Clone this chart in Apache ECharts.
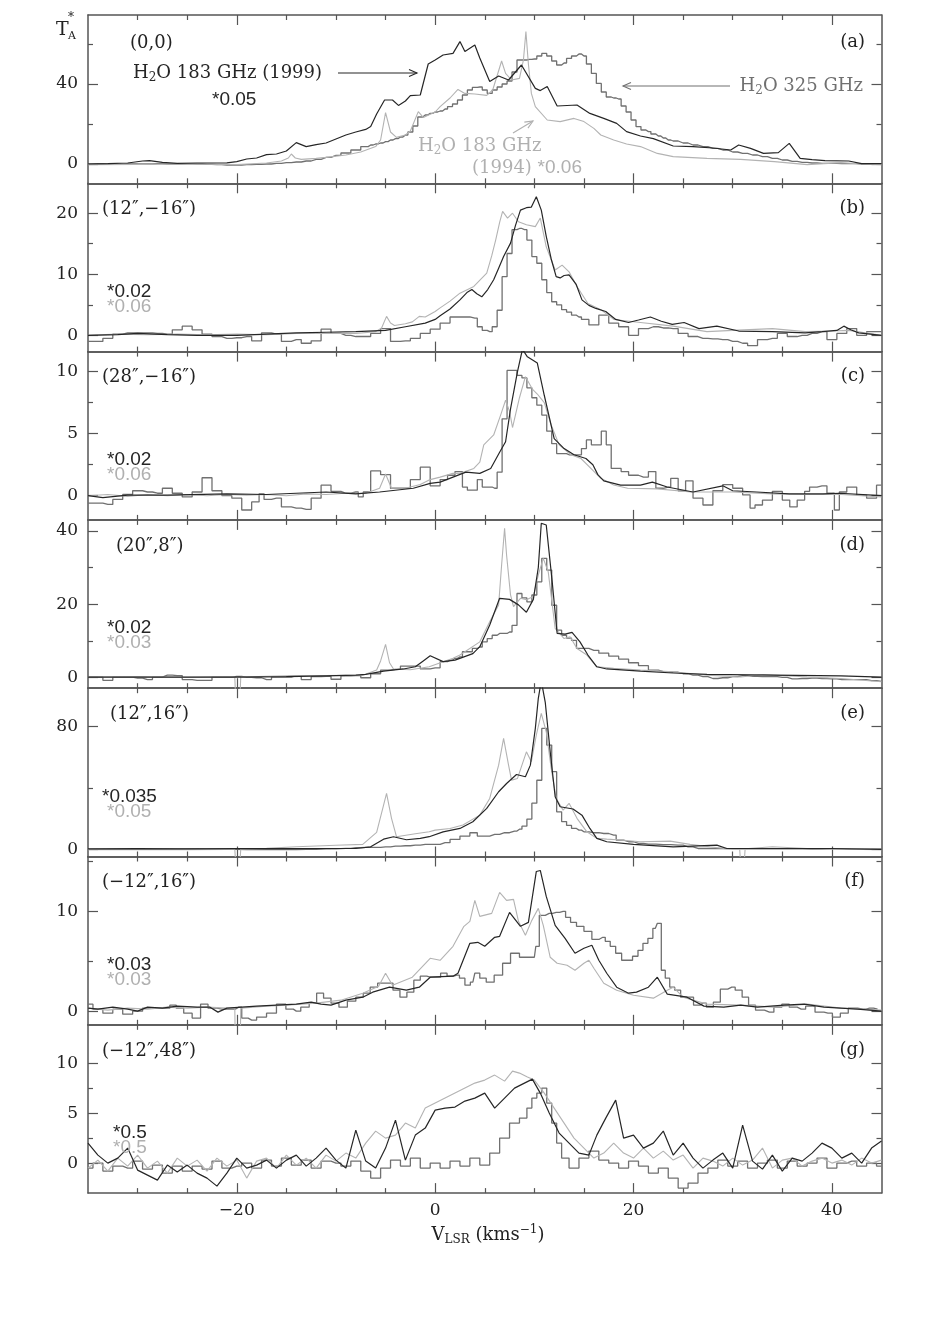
<!DOCTYPE html>
<html><head><meta charset="utf-8">
<script src="https://cdn.jsdelivr.net/npm/echarts@6/dist/echarts.min.js"></script>
<style>html,body{margin:0;padding:0;background:#fff}#c{width:926px;height:1322px}</style>
</head><body><div id="c"></div>
<script>
// ---------------- DATA ----------------
const xMajorTicks=[-20,0,20,40];
const xMinorTicks=[-30,-25,-15,-10,-5,5,10,15,25,30,35];

// panel (a) (0,0)
const a_w99=[[-35,0],[-33,0.2],[-31,0.5],[-29.5,1.5],[-28.8,1.7],[-27.5,0.8],[-26,0.3],[-24,0.5],[-22,0.5],[-21,0.6],[-20,1.2],[-19,2.5],[-18,3],[-17,4.7],[-16,5],[-15,6.5],[-14,10.7],[-13,8.7],[-12,9.7],[-11,10.5],[-10,12.5],[-9,14.5],[-8,16],[-7,17.3],[-6.5,18.7],[-5.9,25],[-5.1,32],[-4.3,32],[-3.7,29.3],[-3,31.5],[-2.5,34.2],[-1.5,34.5],[-0.7,50],[0,52],[0.8,54.5],[1.8,55.3],[2.5,61.2],[3,56.2],[4,59.5],[4.5,53],[5.5,41.2],[6.4,44],[7.4,42],[8.7,49.5],[10.1,37.8],[10.6,36.7],[11.3,38.7],[12.3,29],[14.3,29.5],[15.6,25.3],[17,22.8],[18.3,20.3],[19.3,16.2],[20.7,14],[22,12.7],[24,9],[26,8.7],[28,8],[29.8,7],[30.6,9.5],[31.8,7.8],[33.1,5.3],[34.6,5.7],[35.7,10.3],[36.8,2.8],[38,2.2],[39.3,1.7],[41.7,1.5],[43,0.2],[45,0.2]];
const a_w94=[[-35,-0.3],[-30,-0.2],[-25,0],[-20,-0.3],[-17,0.5],[-15.5,1.5],[-14.8,3],[-14.5,5],[-14.1,3],[-13.5,2.3],[-12,2.8],[-11,3.3],[-9,4.5],[-7.5,6],[-6,8.7],[-5.5,12],[-5.0,25.7],[-4.5,16],[-3.9,13.3],[-3,14.5],[-2.5,16.5],[-1.7,26.2],[-1.2,23.3],[0,26],[0.5,28.7],[1.5,33],[2.3,37.3],[3.0,35.3],[4,35],[5.2,34.3],[5.8,37],[6.3,45],[6.7,51.5],[7.1,45.3],[7.7,42],[8.5,42.8],[8.9,52],[9.15,66.2],[9.4,50],[9.7,35.3],[10.1,28.7],[11.3,22],[12.6,21.2],[14,22.8],[15,21.2],[16,17.8],[16.7,14.5],[18,12],[19.3,10],[20.7,8.7],[22.4,5.3],[24,3.7],[27.4,2.8],[30.8,2.3],[34.2,1.2],[37.5,-0.3],[40.9,0.7],[43,0],[45,-0.3]];
const a_w325=[[-35,0],[-34,0.2],[-33,0],[-32,-0.2],[-31,0],[-30,0.1],[-29,0],[-28,0.2],[-27,0],[-26,0],[-25,0.1],[-24,0],[-23,-0.2],[-22,-0.3],[-21,-0.5],[-20,-0.5],[-19,-0.3],[-18,-0.2],[-17,0],[-16,0.3],[-15,0.7],[-14,1],[-13,1.5],[-12,2.3],[-11,3.3],[-10,4.3],[-9,5.5],[-8,7],[-7,8.7],[-6.5,9.5],[-6,10],[-5.5,10.5],[-5,11.2],[-4.5,12],[-4,12.7],[-3.5,13.5],[-3,14.5],[-2.5,16],[-2,19],[-1.5,23.5],[-1,24.5],[-0.5,25.3],[0,26],[0.5,26.5],[1,27.5],[1.5,28.7],[2,30],[2.5,32],[3,34.5],[3.5,37],[4,38.3],[4.5,38.5],[5,37],[5.5,35.3],[6,37],[6.5,38.5],[7,40],[7.5,41.5],[8,46],[8.5,52],[9,52],[9.5,52.3],[10,52.5],[10.5,54],[11,55.3],[11.5,54],[12,51.5],[12.5,49.5],[13,50.5],[13.5,52.8],[14,54],[14.5,55],[15,54],[15.5,50],[16,45.3],[16.5,40.3],[17,36],[17.5,33.5],[18,33],[18.5,32.5],[19,29],[19.5,26],[20,22],[20.5,18.7],[21,17],[21.5,16.2],[22,15],[22.5,14],[23,13],[23.5,12],[24,11.5],[25,10.5],[26,9.5],[27,8.7],[28,7.8],[29,7],[30,6],[31,5.3],[32,4.5],[33,3.7],[34,2.8],[35,2],[36,1.3],[37,0.8],[38,0.5],[39,0.3],[40,0.3],[41,0.2],[42,0.2],[43,0],[44,0],[45,0]];
const a_yMajor=[0,40], a_yMinor=[20,60];

// panel (b) (12",-16")
const b_w99=[[-35,0],[-32,0.1],[-30,0.3],[-27,0.1],[-24,0],[-20,0],[-17,0.2],[-14,0.4],[-11,0.5],[-8,0.6],[-5,0.8],[-3,1.4],[-1,2],[0,2.6],[0.5,3.2],[1.5,4.3],[2.5,5.8],[3.2,7],[3.7,7.5],[4.2,6.8],[4.7,6.3],[5.3,7.5],[5.9,9.1],[6.4,11],[6.9,12.9],[7.6,15.1],[8.1,18],[8.6,20.5],[9.2,20.9],[9.7,21],[10.2,22.7],[10.7,20.5],[11.2,16.2],[11.7,12.5],[12.2,9.6],[12.6,9.4],[13,9.8],[13.5,9.9],[14.2,8.4],[14.8,5.8],[15.5,4.9],[16.2,4.4],[17.2,3.9],[18.2,2.6],[19.5,2.1],[20.5,2.5],[21.7,3.0],[22.8,2.3],[23.9,1.8],[25.1,2.1],[26.6,1.1],[28.4,1.5],[30.6,0.7],[34,0.6],[37.3,0.4],[39,0.6],[40.5,0.8],[41.2,1.5],[41.9,0.9],[42.7,0.4],[45,0]];
const b_w94=[[-35,0],[-32,0.2],[-29,0.1],[-26,0.2],[-23,0.1],[-20,0.2],[-17,0.1],[-14,0.3],[-11,0.3],[-8,0.3],[-6,0.6],[-5.4,1.2],[-4.9,3.1],[-4.5,2.0],[-4.1,1.6],[-3,1.9],[-2.3,2.2],[-1.6,3.1],[-1,3.0],[0,3.9],[0.5,4.5],[1.5,5.6],[2.5,6.9],[3.9,8.0],[5.2,10.2],[5.7,13],[6.1,15.6],[6.5,18.5],[6.8,20.3],[7.3,19.2],[7.8,20],[8.4,18.6],[9.2,18.1],[10.1,17.8],[10.6,19.2],[11.2,14.5],[12.1,10.7],[12.8,11.5],[13.5,10.4],[14.3,8.0],[15.4,5.2],[16.7,4.2],[18,2.6],[20.7,2.1],[24,1.5],[27.4,0.6],[30,0.8],[34,1.1],[37.3,0.6],[40,0.7],[41.7,0.8],[45,0]];
const b_w325=[[-35,-1.0],[-34,-1.0],[-33,-0.5],[-32,0.2],[-31,0.4],[-30,0.4],[-29,0.4],[-28,0.3],[-27,0.2],[-26,0.9],[-25,1.5],[-24,0.9],[-23,0.2],[-22,-0.2],[-21,-0.5],[-20,-0.4],[-19,-0.2],[-18,-0.9],[-17,0.4],[-16,0.2],[-15,-1.0],[-14,-0.7],[-13,-1.3],[-12,-0.9],[-11,1.0],[-10,0.3],[-9,0],[-8,-0.2],[-7,-0.2],[-6,0.3],[-5,1.1],[-4,-1.0],[-3,-0.9],[-2,-0.5],[-1,0.3],[0,1.0],[1,2.0],[2,3.0],[3,3.0],[4,2.8],[4.5,1.4],[5,0.8],[5.5,0.6],[6,1.4],[6.5,4.1],[7,9.6],[7.5,13.4],[8,17.3],[8.5,17.5],[9,17.3],[9.5,15.6],[10,12.9],[10.5,11.8],[11,9.1],[11.5,7],[12,5.5],[12.5,5.0],[13,4.2],[13.5,3.8],[14,3.3],[14.5,3.0],[15,2.6],[16,1.7],[17,3.3],[18,2.0],[19,1.4],[20,0],[21,1.1],[22,1.4],[23,1.2],[24,1.1],[25,0.3],[26,-0.2],[27,-0.5],[28,-0.6],[29,-0.7],[30,-1.0],[31,-1.3],[32,-1.7],[33,-0.7],[34,-0.5],[35,0.3],[36,-0.2],[37,0],[38,0.3],[39,0.6],[40,-0.7],[41,0.3],[42,1.1],[43,0],[44,0.6],[45,0.6]];
const b_yMajor=[0,10,20], b_yMinor=[5,15];

// panel (c) (28",-16")
const c_w99=[[-35,0],[-33.5,-0.16],[-31,0.05],[-27,0.05],[-21,0.15],[-17,0.1],[-11,0.3],[-8,0.15],[-5.6,0.3],[-2.2,0.6],[-0.5,1.0],[0.5,1.1],[1.8,1.5],[3.1,1.9],[4.5,1.8],[5.6,2.2],[6.5,3.5],[7.1,4.35],[7.6,7.0],[8.3,10.0],[8.8,11.8],[9.3,11.2],[10.3,10.7],[11,8.1],[12,4.6],[13,3.8],[14,3.3],[15.2,3.0],[15.9,2.5],[16.4,1.7],[17,1.2],[18.7,0.86],[20.7,0.86],[21.9,1.1],[23.4,0.7],[26,0.3],[29,0.8],[30,0.4],[32.4,0.3],[35.7,0.15],[39.1,0.15],[40.8,0.2],[45,0]];
const c_w94=[[-35,0],[-33,0.1],[-31,-0.05],[-29,0.1],[-27,0],[-25,0.1],[-23,0],[-21,0.1],[-19,0.05],[-17,0.1],[-15,0],[-13,0.15],[-11,0.1],[-9,0.2],[-7,0.2],[-5.6,0.6],[-5.0,1.75],[-4.4,0.6],[-3,0.6],[-1.5,0.9],[-0.5,1.3],[0.5,1.5],[1.8,1.8],[2.5,1.8],[3.9,2.2],[4.5,2.7],[4.9,4.1],[5.9,4.9],[6.6,6.5],[7.1,7.7],[7.5,6.8],[7.8,5.5],[8.5,7.9],[9.1,9.6],[9.8,8.6],[10.3,8.2],[11,7.5],[11.7,5.7],[12.5,4.1],[13.7,3.3],[14.7,3.0],[15.7,2.2],[16.7,1.4],[18,0.86],[19.4,0.6],[22.4,0.55],[25.8,0.3],[30,0.3],[34,0.15],[37.5,0.1],[41,0.1],[45,-0.1]];
const c_w325=[[-35,-0.6],[-34,-0.6],[-33,-0.7],[-32,-0.3],[-31,0.1],[-30,0.4],[-29,0.3],[-28,0.2],[-27,0.6],[-26,0.2],[-25,-0.1],[-24,0.3],[-23,1.45],[-22,0.4],[-21,0],[-20,-0.2],[-19,-1.15],[-18,-0.5],[-17.5,0.15],[-17,-0.3],[-16,-0.2],[-15,-0.9],[-14,-1.0],[-13,-1.1],[-12,-0.2],[-11,0.85],[-10,0.35],[-9,0.2],[-8,0.3],[-7.5,-0.1],[-7,0.3],[-6,2.0],[-5,1.7],[-4,0.6],[-3,0.6],[-2,1.3],[-1,2.3],[0,0.8],[1,1.3],[1.5,1.65],[2.5,1.95],[3,0.7],[3.5,0.45],[4,0.45],[4.5,1.3],[5,0.7],[5.5,0.7],[6,0.6],[6.5,1.9],[7,6.2],[7.5,10.1],[8,10.1],[8.5,9.7],[9,9.5],[9.5,8.7],[10,7.9],[10.5,7.3],[11,6.5],[11.5,5.2],[12,4.2],[12.5,3.4],[13,3.4],[13.5,3.3],[14,3.3],[14.5,3.3],[15,3.8],[15.5,4.5],[16,4.1],[16.5,4.1],[17,5.2],[17.5,4.1],[18,2.2],[18.5,2.2],[19,1.95],[20,1.65],[21,1.5],[22,1.95],[22.5,0.6],[23.5,0.7],[24,1.4],[25,0.4],[25.5,1.2],[26.5,-0.2],[27.5,-0.75],[28.5,0.4],[29.5,0.9],[30.5,0.6],[31.5,0.06],[32,-1.0],[32.5,-0.75],[33.5,-0.35],[34.5,0.35],[35.5,-0.35],[36,-0.9],[37,-0.35],[37.5,0.35],[38,0.7],[39,0.8],[40,0.2],[40.5,-1.15],[41,0.3],[42,0.7],[43,0.05],[44,-0.2],[45,0.85]];
const c_yMajor=[0,5,10], c_yMinor=[2.5,7.5];

// panel (d) (20",8")
const d_w99=[[-35,0.1],[-30,0.1],[-25,0.1],[-20,0.1],[-15,0.2],[-11,0.4],[-8,0.6],[-7,0.8],[-5.2,1.7],[-3.2,2.3],[-2,2.9],[-1.2,4.5],[-0.5,5.9],[0.8,4.3],[2,4.7],[3.8,6.5],[4.5,8.4],[5.5,14.3],[6.5,21.6],[7.5,21.3],[8.4,19.8],[9.2,17.8],[9.9,21.3],[10.4,30],[10.7,42.1],[11.2,41.6],[11.8,26.1],[12.3,12.0],[13.1,11.8],[13.8,12.3],[14.6,9.7],[15.4,6.1],[16.3,2.9],[17.3,2.3],[20.7,1.7],[24,1.2],[27.4,0.8],[34.1,0.6],[40.9,0.4],[45,0.1]];
const d_w94=[[-35,0.1],[-30,0.2],[-25,0],[-21,0.2],[-20.2,0.1],[-20.05,-10],[-19.75,-10],[-19.6,0.1],[-17,0.3],[-14,0.5],[-11,0.5],[-9,0.6],[-7.3,0.6],[-5.9,2.0],[-5.5,4.5],[-5.0,9.0],[-4.6,4],[-4.2,2.3],[-2.5,2.1],[-0.6,2.9],[1.8,5.2],[2.5,6.1],[4.5,9.7],[5.5,15.2],[6.4,19.8],[6.7,30.7],[7.0,40.7],[7.2,33.4],[7.6,22.5],[7.9,19.3],[8.6,21.6],[9.2,21.2],[9.9,22.1],[10.4,28.0],[10.9,32.5],[11.4,28.8],[12.1,13.4],[13,10.6],[13.6,11.1],[14.3,7.9],[15.3,6.1],[16.3,2.9],[18,2.5],[20.7,2.0],[24,1.5],[27.4,0.6],[30.8,0.1],[33.1,0.8],[37.5,0.1],[40.9,-0.3],[45,-1.2]];
const d_w325=[[-35,0.1],[-34,0.1],[-33,-0.8],[-32,0.1],[-31,0.1],[-30,-0.2],[-29,-0.6],[-28,0.1],[-27,0.6],[-26,0.5],[-25,-0.6],[-24,-0.8],[-23,-0.8],[-22,0.1],[-21,0.1],[-20,0.3],[-19,0],[-18,-0.1],[-17,-0.6],[-16,0.1],[-15,0.1],[-14,0.5],[-13,-0.6],[-12,0.2],[-11,0.3],[-10,-0.5],[-9,0.4],[-8,0.5],[-7,-0.1],[-6,1.0],[-5,2.0],[-4,2.2],[-3,3.1],[-2,3.1],[-1,2.3],[0,2.6],[1,4.3],[1.5,4.7],[2,5.2],[2.5,5.6],[3,7.0],[3.5,7.0],[4,7.9],[4.5,8.3],[5,9.7],[5.5,10.6],[6,11.5],[6.5,12.0],[7,12.0],[7.5,12.4],[8,14.2],[8.5,22.9],[9,21.7],[9.5,20.6],[10,22.5],[10.5,26.1],[11,32.5],[11.5,29.3],[12,19.7],[12.5,12.9],[13,11.5],[13.5,10.7],[14,10.1],[14.5,7.9],[15,7.9],[16,7.4],[17,6.6],[18,5.8],[19,5.0],[20,4.0],[21,3.2],[22,2.0],[23,1.6],[24,1.4],[25,1.0],[26,0.6],[27,0.2],[28,-0.3],[29,-0.1],[30,0.2],[31,0.5],[32,0.3],[33,0.2],[34,0.2],[35,0],[36,-0.4],[37,-0.3],[38,-0.2],[39,-0.3],[40,-0.4],[41,-0.6],[42,-0.6],[43,-0.6],[44,-0.9],[45,-1.1]];
const d_yMajor=[0,20,40], d_yMinor=[10,30];

// panel (e) (12",16")
const e_w99=[[-35,0.2],[-30,0.3],[-25,0.2],[-20,0.3],[-15,0.3],[-10,0.4],[-8,0.4],[-6.5,1.5],[-5.2,6.5],[-4.2,8.1],[-2.9,6.1],[-1.5,7],[-0.6,8.1],[0.8,11.3],[2.5,13.5],[3.8,17.9],[5.2,26.6],[6.4,37.5],[7.2,42.9],[8.2,48.8],[9.1,47.3],[9.6,54.9],[10.1,78.9],[10.4,98.6],[10.7,110],[11.1,96],[11.6,63.6],[12.1,34.2],[12.6,27.7],[13.9,26.2],[14.8,22.2],[15.6,13.5],[16.3,7.0],[17.3,4.8],[20,3.1],[24,1.5],[28.4,2.6],[29.4,0.4],[34,0.4],[40,0.4],[45,-0.2]];
const e_w94=[[-35,-0.4],[-30,-0.3],[-25,-0.4],[-21,-0.2],[-20.2,-0.2],[-20.05,-15],[-19.75,-15],[-19.6,0],[-17,0.5],[-14,1.5],[-10,2.5],[-7.3,3.1],[-5.9,10.9],[-5.2,28.8],[-4.9,36.4],[-4.4,20.1],[-3.9,8.1],[-2,10],[-0.6,11.3],[0,12.4],[1.5,13.5],[2.8,15.7],[4.5,22.2],[5.5,33.1],[6.4,54.9],[6.9,72.4],[7.4,54.9],[7.7,45.1],[8.3,46.2],[9.2,63.6],[9.7,57.1],[10.2,74.6],[10.7,88.7],[11.2,76.7],[11.7,52.8],[12.2,33.1],[12.9,25.5],[13.5,29.9],[14.3,20.1],[15.3,11.3],[16.3,7.0],[17.3,6.5],[18.7,5.9],[20.7,4.8],[23.7,5.2],[25.7,3.1],[29.1,0.4],[30.7,0.2],[30.85,-15],[31.1,-15],[31.25,0.2],[34,1.5],[37.5,0.4],[41,0],[45,-0.4]];
const e_w325=[[-35,-0.2],[-33,-0.2],[-31,0],[-29,-0.2],[-27,0],[-25,0.2],[-23,0],[-21,-0.2],[-19,-0.3],[-17,-0.4],[-15,-0.4],[-13,-0.2],[-11,0.2],[-9,0.5],[-8,0.9],[-7,1.1],[-6,1.1],[-5,1.5],[-4,2.0],[-3,2.2],[-2,2.6],[-1,3.1],[0,3.1],[1,4.2],[2,6.3],[3,8.5],[4,10.7],[4.5,8.5],[5,8.5],[6,9.6],[7,10.7],[8,11.8],[8.5,13],[9,15],[9.5,19.6],[10,30],[10.5,45],[11,78.9],[11.5,68],[12,50.6],[12.5,24.4],[13,18],[13.5,15.5],[14,13.5],[14.5,12.4],[15,11.3],[16,10.7],[17,10.2],[18,9.2],[18.5,5.9],[19.5,4.8],[20.5,3.7],[21.5,3.3],[23,2.9],[24.5,2.6],[25.5,1.5],[26.5,0.4],[28,0.4],[30,0.2],[32,0.2],[34,0.1],[36,0.2],[38,0],[40,0.1],[42,-0.1],[44,-0.1],[45,-0.1]];
const e_yMajor=[0,80], e_yMinor=[40];

// panel (f) (-12",16")
const f_w99=[[-35,0.3],[-34,0.2],[-32.5,0.4],[-31,0.2],[-30,0],[-29,0.4],[-27.5,0.3],[-26,0.5],[-24,0.4],[-22.7,0.4],[-21.9,-0.1],[-21,0.3],[-18,0.5],[-16,0.6],[-14,0.7],[-12.5,0.9],[-11.5,0.7],[-10.5,0.6],[-9,1.1],[-7.3,1.4],[-6.3,1.9],[-4.6,2.4],[-2.9,2.1],[-1.6,2.4],[-0.5,3.4],[1.8,3.5],[2.3,3.8],[2.9,5.3],[3.5,6.8],[4.3,6.9],[5,6.5],[6,7.4],[6.5,7.5],[7.5,9.9],[8.6,8.5],[9.4,8.9],[10.2,14.0],[10.6,14.1],[11.2,11.5],[12.1,8.6],[13.1,7.3],[14.1,5.8],[15,6.3],[15.8,6.6],[16.5,5.1],[17.3,3.8],[18.3,2.4],[19.5,1.8],[20.3,1.9],[21.5,2.4],[22.4,3.4],[23.4,1.7],[25.4,1.4],[27.1,0.5],[29.1,0.4],[30.8,0.6],[32.5,0.4],[35.2,0.6],[37.2,0.7],[39.2,0.4],[42.6,0.2],[45,0]];
const f_w94=[[-35,0.3],[-33,0.1],[-31,0.3],[-29,0.2],[-27,0.4],[-25,0.3],[-23,0.4],[-21,0.3],[-20.2,0.3],[-20.05,-10],[-19.75,-10],[-19.6,0.3],[-17,0.5],[-15,0.6],[-12,0.8],[-9.5,1.1],[-7.3,1.8],[-5.7,2.5],[-5,3.8],[-4.3,2.6],[-2.3,3.4],[-0.5,5.3],[0.5,5.1],[1.8,6.5],[2.9,8.5],[3.5,9.0],[4.0,11.1],[4.5,9.5],[5.7,9.8],[6.5,11.9],[7.2,11.1],[7.9,11.2],[8.4,9.0],[9.1,7.6],[9.7,9.0],[10.4,10.3],[10.9,8.6],[11.6,5.4],[12.3,4.8],[13.3,4.6],[14.1,4.1],[15,4.8],[15.5,5.1],[16,4.3],[17,2.8],[18.3,2.1],[20,1.6],[22,1.3],[23.4,2.1],[24,2.4],[25,1.4],[27.4,0.7],[30.8,0.6],[34.1,0.4],[37.5,0.7],[40.9,0.3],[45,0.1]];
const f_w325=[[-35,0.7],[-34,0.2],[-33,-0.2],[-32,0.2],[-31,-0.3],[-30,0],[-29,0.3],[-28,0.3],[-27,0.3],[-26.5,0.6],[-25.7,0.3],[-25,-0.2],[-24,-0.7],[-23.3,0.7],[-22.5,0.3],[-21.5,0.2],[-20.5,0.2],[-19.8,0.4],[-19.2,-0.7],[-18.5,-0.9],[-17.5,-0.6],[-16.5,-0.2],[-15.5,0.7],[-14.6,0.2],[-14,0],[-13.1,0.4],[-12.3,0.8],[-11.6,1.8],[-10.9,1.3],[-10.1,0.8],[-9.3,0.4],[-8.4,1.0],[-7.6,1.4],[-6.9,1.8],[-6.2,2.4],[-5.4,2.8],[-4.6,2.8],[-3.9,2.1],[-3.2,1.4],[-2.5,1.9],[-1.8,3.1],[-1.2,3.5],[-0.5,3.4],[0.2,3.4],[0.9,3.8],[1.5,3.5],[2.2,3.6],[2.7,3.3],[3.3,2.6],[3.8,2.9],[4.2,3.8],[4.8,3.3],[5.5,2.9],[6.4,3.6],[7.2,4.8],[8,5.8],[9,5.4],[10,5.4],[10.3,6.5],[10.7,9.6],[11.5,9.8],[12.2,9.9],[12.9,10.0],[13.4,9.4],[13.9,8.9],[14.6,8.5],[15.4,8.0],[16.2,7.2],[16.9,7.4],[17.4,7.0],[17.9,6.5],[18.5,5.8],[19.1,5.1],[19.6,5.1],[20.2,5.5],[20.7,6.1],[21.2,6.8],[21.7,7.3],[22.2,8.3],[22.6,8.8],[23,4.1],[23.4,3.3],[23.9,2.4],[24.4,2.1],[25.1,1.4],[25.7,1.4],[26.4,0.6],[27,0.8],[27.7,0.4],[28.4,0.9],[29.1,2.2],[29.9,2.4],[30.6,2.1],[31.3,1.4],[31.9,0.6],[32.7,0.1],[33.7,-0.1],[34.6,0.4],[35.3,0.7],[36.1,0.4],[36.9,0.2],[37.8,0.5],[38.8,-0.1],[39.6,-0.2],[40.5,-0.6],[41.2,-0.2],[42.1,0.3],[43.1,0.2],[43.8,0.3],[44.6,0.2]];
const f_yMajor=[0,10], f_yMinor=[5,15];

// panel (g) (-12",48")
const g_w99=[[-35,2.0],[-34,0.8],[-33,0],[-32,0.5],[-31,1.5],[-30,-0.7],[-29,-1.2],[-28,-1.7],[-27,-0.2],[-26,-0.9],[-25,-0.2],[-24,-1.0],[-23,-1.5],[-22,-2.3],[-21,-1.0],[-20,0.5],[-19,-0.5],[-18,-0.2],[-17,0.3],[-16,-0.5],[-15,0.3],[-14,0.8],[-13,-0.3],[-12,0.5],[-11,1.5],[-10,0.3],[-9,-0.5],[-8,3.3],[-7,0.2],[-6,-0.5],[-5,1.5],[-4,4.3],[-3,0.3],[-2,2.8],[-1,3.5],[0,5.3],[1,5.5],[2,5.6],[3,6.2],[4,6.5],[5,7.0],[6,5.5],[7,6.5],[8,7.5],[9,8.0],[9.8,8.4],[10.6,7.0],[11.5,5.0],[12.5,3.0],[13.5,2.0],[14.5,1.0],[15.5,0.8],[16.3,2.8],[17.2,4.5],[18.2,6.3],[19,2.5],[20,2.8],[21,1.5],[22,2.0],[23,3.2],[24,0.8],[25,2.0],[26,0.5],[27,-0.5],[28,0.3],[29,1.0],[30,-0.5],[31,3.8],[32,0.2],[33,-0.6],[34,0.8],[35,-0.8],[36,0.5],[37,0.2],[38,1.0],[39,2.0],[40,1.5],[41,0.5],[42,1.0],[43,0],[44,1.5],[45,2.2]];
const g_w94=[[-35,-0.5],[-34,0.3],[-33,-0.8],[-32,0.5],[-31,-0.3],[-30,0.8],[-29,-0.5],[-28,0.2],[-27,-1.0],[-26,0.5],[-25,-0.3],[-24,0.3],[-23,-0.8],[-22,0.5],[-21,-0.3],[-20,0.3],[-19,-1.5],[-18,0.2],[-17,0.5],[-16,-0.5],[-15,0.8],[-14,-0.2],[-13,0.5],[-12,-0.5],[-11,0.8],[-10,0.2],[-9,1.0],[-8,0.5],[-7,2.0],[-6,3.2],[-5,2.5],[-4,2.8],[-3,4.0],[-2,3.5],[-1,5.5],[0,6.0],[1,6.5],[2,7.0],[3,7.5],[4,8.0],[5,8.3],[6,8.8],[7,8.2],[7.8,9.2],[8.5,9.0],[9.3,8.6],[10,8.3],[11,7.0],[12,5.5],[13,4.0],[14,2.5],[15,1.5],[16,0.5],[17,1.0],[18,2.0],[19,1.0],[20,0.5],[21,1.5],[22,0.5],[23,1.2],[24,0.3],[25,0.8],[26,-0.5],[27,0.5],[28,0.2],[29,-0.3],[30,0.5],[31,-0.2],[32,0.3],[33,1.5],[34,-0.5],[35,0.3],[36,0.5],[37,-0.3],[38,0.2],[39,0.5],[40,0],[41,0.3],[42,-0.2],[43,0.5],[44,0],[45,0.3]];
const g_w325=[[-35,-0.5],[-34,0],[-33,-0.8],[-32,-0.3],[-31,-0.5],[-30,0.2],[-29,-0.6],[-28,-0.2],[-27,-1.0],[-26,-0.3],[-25,-0.8],[-24,-0.3],[-23,-0.6],[-22,0.2],[-21,-0.5],[-20,-0.3],[-19,0],[-18,-0.5],[-17,0.3],[-16,-0.3],[-15,0.5],[-14,-0.2],[-13,0.3],[-12,-0.5],[-11,0.2],[-10,0],[-9,-0.3],[-8,0.2],[-7,-0.8],[-6,-1.5],[-5,-0.5],[-4,0.3],[-3,-0.3],[-2,0.5],[-1,-0.5],[0,0],[1,-0.5],[2,0.2],[3,-0.3],[4,0.5],[5,-0.2],[6,1.0],[7,2.5],[8,4.0],[9,4.5],[9.5,5.5],[10,6.5],[10.5,7.0],[11,7.5],[11.5,6.0],[12,4.0],[12.5,2.0],[13,0.5],[14,-0.5],[15,0.5],[16,1.2],[17,0.3],[18,0],[19,-0.5],[20,0.2],[21,-0.3],[22,-1.0],[23,-0.5],[24,-1.5],[25,-2.5],[26,-2.0],[27,-1.0],[28,-0.5],[29,0.3],[30,-0.3],[31,0.2],[32,-0.5],[33,0],[34,0.3],[35,-0.5],[36,0.2],[37,-0.3],[38,0],[39,0.5],[40,-0.5],[41,0],[42,0.2],[43,-0.3],[44,0],[45,-0.3]];
const g_yMajor=[0,5,10], g_yMinor=[2.5,7.5];

const positionLabels=['(0,0)','(12\u2033,\u221216\u2033)','(28\u2033,\u221216\u2033)','(20\u2033,8\u2033)','(12\u2033,16\u2033)','(\u221212\u2033,16\u2033)','(\u221212\u2033,48\u2033)'];
const panelLetters=['(a)','(b)','(c)','(d)','(e)','(f)','(g)'];
const scale99=[null,'*0.02','*0.02','*0.02','*0.035','*0.03','*0.5'];
const scale94=[null,'*0.06','*0.06','*0.03','*0.05','*0.03','*0.5'];

// ---------------- LAYOUT / STYLE ----------------
const X_MIN=-35, X_MAX=45;
const G_TOP=15, G_H=168.3, G_LEFT=88, G_W=793.5;
const FRAME='#555';
const C99='#262626', C94='#b3b3b3', C325='#707070';
const SERIF="'DejaVu Serif', serif", SANS="'Liberation Sans', Arial, sans-serif";
const panels=[
 {w99:a_w99,w94:a_w94,w325:a_w325,yMin:-9.65,yMax:74.5,yMajor:a_yMajor,yMinor:a_yMinor},
 {w99:b_w99,w94:b_w94,w325:b_w325,yMin:-2.67,yMax:24.9,yMajor:b_yMajor,yMinor:b_yMinor},
 {w99:c_w99,w94:c_w94,w325:c_w325,yMin:-1.95,yMax:11.62,yMajor:c_yMajor,yMinor:c_yMinor},
 {w99:d_w99,w94:d_w94,w325:d_w325,yMin:-2.95,yMax:43.0,yMajor:d_yMajor,yMinor:d_yMinor},
 {w99:e_w99,w94:e_w94,w325:e_w325,yMin:-4.84,yMax:105.2,yMajor:e_yMajor,yMinor:e_yMinor},
 {w99:f_w99,w94:f_w94,w325:f_w325,yMin:-1.37,yMax:15.5,yMajor:f_yMajor,yMinor:f_yMinor},
 {w99:g_w99,w94:g_w94,w325:g_w325,yMin:-3.0,yMax:13.83,yMajor:g_yMajor,yMinor:g_yMinor}
];
const fmt=v=>v<0?'\u2212'+(-v):String(v);

const grid=[],xAxis=[],yAxis=[],series=[],graphic=[];
panels.forEach((p,i)=>{
  const top=G_TOP+i*G_H;
  grid.push({left:G_LEFT,top:top,width:G_W,height:G_H});
  const last=i===panels.length-1;
  const xi=xAxis.length, yi=yAxis.length;
  const mkX=(pos,vals,len,line,lab)=>({type:'value',gridIndex:i,position:pos,min:X_MIN,max:X_MAX,
    axisLine:{show:line,onZero:false,lineStyle:{color:FRAME,width:1.5}},
    axisTick:{show:true,inside:true,length:len,customValues:vals,lineStyle:{color:FRAME,width:1.2}},
    axisLabel:{show:lab,customValues:xMajorTicks,margin:9,color:'#222',fontFamily:SERIF,fontSize:17,formatter:fmt},
    splitLine:{show:false}});
  xAxis.push(mkX('bottom',xMajorTicks,10,true,last));
  xAxis.push(mkX('bottom',xMinorTicks,5,false,false));
  xAxis.push(mkX('top',xMajorTicks,10,true,false));
  xAxis.push(mkX('top',xMinorTicks,5,false,false));
  const mkY=(pos,vals,len,line,lab)=>({type:'value',gridIndex:i,position:pos,min:p.yMin,max:p.yMax,
    axisLine:{show:line,onZero:false,lineStyle:{color:FRAME,width:1.5}},
    axisTick:{show:true,inside:true,length:len,customValues:vals,lineStyle:{color:FRAME,width:1.2}},
    axisLabel:{show:lab,customValues:p.yMajor,margin:10,color:'#222',fontFamily:SERIF,fontSize:17,formatter:fmt},
    splitLine:{show:false}});
  yAxis.push(mkY('left',p.yMajor,10,true,true));
  yAxis.push(mkY('left',p.yMinor,5,false,false));
  yAxis.push(mkY('right',p.yMajor,10,true,false));
  yAxis.push(mkY('right',p.yMinor,5,false,false));
  const base={type:'line',xAxisIndex:xi,yAxisIndex:yi,showSymbol:false,symbol:'none',silent:true,animation:false,clip:true};
  series.push(Object.assign({},base,{name:'H2O 325 GHz',data:p.w325,step:'middle',z:2,lineStyle:{color:C325,width:1.3}}));
  series.push(Object.assign({},base,{name:'H2O 183 GHz 1994',data:p.w94,z:3,lineStyle:{color:C94,width:1.1}}));
  series.push(Object.assign({},base,{name:'H2O 183 GHz 1999',data:p.w99,z:4,lineStyle:{color:C99,width:1.2}}));
});

// text annotations
const txt=(x,y,text,opt)=>Object.assign({type:'text',x:x,y:y,z:100,silent:true,
  style:Object.assign({text:text,fill:'#222',font:'17px '+SERIF,align:'left',verticalAlign:'middle'},opt||{})},{});
const labelY=[43,209,377,546,714,882,1051];
const labelX=[130,102,102,116,110,102,102];
positionLabels.forEach((t,i)=>graphic.push(txt(labelX[i],labelY[i],t,{font:'18px '+SERIF})));
panelLetters.forEach((t,i)=>graphic.push(txt(865,labelY[i]-1,t,{font:'18px '+SERIF,align:'right'})));
const sY=[0,292,460,628,797,965,1133];
for(let i=1;i<7;i++){
  const x99 = i===4?102:(i===6?113:107);
  const x94 = i===6?113:107;
  graphic.push(txt(x99,sY[i],scale99[i],{font:'19px '+SANS,fill:'#262626'}));
  graphic.push(txt(x94,sY[i]+15,scale94[i],{font:'19px '+SANS,fill:'#b0b0b0'}));
}
// rich helper for subscripts
const rich=(col)=>({n:{fontFamily:SERIF,fontSize:18,lineHeight:22,fill:col,color:col},
  s:{fontFamily:SERIF,fontSize:12,lineHeight:12,verticalAlign:'bottom',fill:col,color:col},
  p:{fontFamily:SERIF,fontSize:12,lineHeight:12,verticalAlign:'top',fill:col,color:col}});
graphic.push({type:'text',x:133,y:73,z:100,silent:true,style:{text:'{n|H}{s|2}{n|O 183 GHz (1999)}',rich:rich('#262626'),verticalAlign:'middle',align:'left'}});
graphic.push(txt(212,100,'*0.05',{font:'19px '+SANS,fill:'#262626'}));
graphic.push({type:'text',x:863,y:86,z:100,silent:true,style:{text:'{n|H}{s|2}{n|O 325 GHz}',rich:rich('#707070'),verticalAlign:'middle',align:'right'}});
graphic.push({type:'text',x:418,y:146,z:100,silent:true,style:{text:'{n|H}{s|2}{n|O 183 GHz}',rich:rich('#b0b0b0'),verticalAlign:'middle',align:'left'}});
graphic.push({type:'text',x:472,y:168,z:100,silent:true,style:{text:'{n|(1994) }{q|*0.06}',rich:Object.assign(rich('#b0b0b0'),{q:{fontFamily:SANS,fontSize:19,lineHeight:22,fill:'#b0b0b0',color:'#b0b0b0'}}),verticalAlign:'middle',align:'left'}});
// arrows
const arrow=(x1,y1,x2,y2,col)=>{
  const dx=x2-x1, dy=y2-y1, L=Math.hypot(dx,dy), ux=dx/L, uy=dy/L, px=-uy, py=ux;
  const bx=x2-8*ux, by=y2-8*uy;
  graphic.push({type:'line',z:100,silent:true,shape:{x1:x1,y1:y1,x2:x2,y2:y2},style:{stroke:col,lineWidth:1.1}});
  graphic.push({type:'polyline',z:100,silent:true,shape:{points:[[bx+3.5*px,by+3.5*py],[x2,y2],[bx-3.5*px,by-3.5*py]]},style:{stroke:col,lineWidth:1.1,fill:null}});
};
arrow(338,73,417,73,'#262626');
arrow(730,86,623,86,'#707070');
arrow(513,133,533,121,'#b0b0b0');
// T_A^* label
graphic.push(txt(56,30,'T',{font:'19px '+SERIF}));
graphic.push(txt(68,18,'*',{font:'12px '+SERIF}));
graphic.push(txt(68,36,'A',{font:'11px '+SERIF}));
// x axis title
graphic.push({type:'text',x:488,y:1235,z:100,silent:true,style:{text:'{n|V}{s|LSR}{n| (kms}{p|\u22121}{n|)}',rich:rich('#222'),verticalAlign:'middle',align:'center'}});

const chart=echarts.init(document.getElementById('c'),null,{renderer:'canvas'});
chart.setOption({animation:false,backgroundColor:'#fff',grid:grid,xAxis:xAxis,yAxis:yAxis,series:series,graphic:graphic});
</script></body></html>
